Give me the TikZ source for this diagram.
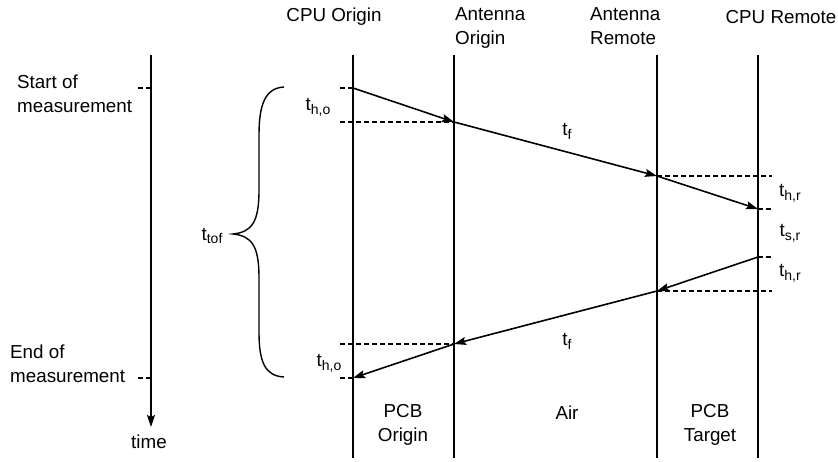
\documentclass[tikz,border=0pt]{standalone}
\usepackage{fontspec}
\setmainfont{Liberation Sans}
\usetikzlibrary{arrows.meta}
\newcommand\lowidx[1]{\raisebox{-0.4ex}{\fontsize{14}{14}\selectfont #1}}
\tikzset{
  txt/.style={font=\fontsize{18.8}{24}\selectfont, inner sep=0pt},
  lifeline/.style={line width=1.6pt},
  msg/.style={line width=1.6pt, -{Stealth[length=12pt,width=8pt,inset=2pt]}},
  tick/.style={line width=1.3pt, dash pattern=on 5pt off 3pt},
}
\begin{document}
\begin{tikzpicture}[x=1pt,y=-1pt]
\useasboundingbox (0,0) rectangle (838,462);
% lifeline ends
\coordinate (ta) at (151,55);  \coordinate (tb) at (151,427);
\coordinate (co) at (353,55);  \coordinate (cob) at (353,458);
\coordinate (ao) at (454,55);  \coordinate (aob) at (454,458);
\coordinate (ar) at (657,55);  \coordinate (arb) at (657,458);
\coordinate (cr) at (758,55);  \coordinate (crb) at (758,458);
\draw[msg] (ta) -- (tb);
\draw[lifeline] (co) -- (cob);
\draw[lifeline] (ao) -- (aob);
\draw[lifeline] (ar) -- (arb);
\draw[lifeline] (cr) -- (crb);
% event points
\coordinate (p1) at (353,88);  \coordinate (p2) at (454,122);
\coordinate (p3) at (657,176); \coordinate (p4) at (758,209);
\coordinate (p5) at (758,257); \coordinate (p6) at (657,291);
\coordinate (p7) at (454,344); \coordinate (p8) at (353,378);
% dashed ends
\coordinate (d1) at (340,88);  \coordinate (d2) at (340,122);
\coordinate (d3) at (772,176); \coordinate (d4) at (772,209);
\coordinate (d5) at (772,257); \coordinate (d6) at (772,291);
\coordinate (d7) at (340,344); \coordinate (d8) at (340,378);
\coordinate (s1) at (138,88);  \coordinate (s1b) at (151,88);
\coordinate (s2) at (138,378); \coordinate (s2b) at (151,378);
\draw[tick] (s1) -- (s1b);
\draw[tick] (s2) -- (s2b);
\draw[tick] (d1) -- (p1);
\draw[tick] (d2) -- (p2);
\draw[tick] (p3) -- (d3);
\draw[tick] (p4) -- (d4);
\draw[tick] (p5) -- (d5);
\draw[tick] (p6) -- (d6);
\draw[tick] (d7) -- (p7);
\draw[tick] (d8) -- (p8);
% messages
\draw[msg] (p1) -- (p2);
\draw[msg] (p2) -- (p3);
\draw[msg] (p3) -- (p4);
\draw[msg] (p5) -- (p6);
\draw[msg] (p6) -- (p7);
\draw[msg] (p7) -- (p8);
% brace
\draw[line width=1.4pt] (284,87) .. controls (265,88) and (259,105) .. (259,135)
  -- (259,190) .. controls (259,222) and (252,232) .. (233,234)
  .. controls (252,236) and (259,246) .. (259,278)
  -- (259,332) .. controls (259,362) and (265,376) .. (284,377);
% headings
\node[txt] (hco) at (334,17) {CPU Origin};
\node[txt, align=left, anchor=north west] (hao) at (455,7) {Antenna\\Origin};
\node[txt, align=left, anchor=north west] (har) at (590,7) {Antenna\\Remote};
\node[txt] (hcr) at (781,17) {CPU Remote};
\node[txt, align=left, anchor=north west] (lst) at (17,75) {Start of\\measurement};
\node[txt, align=left, anchor=north west] (len) at (10,345) {End of\\measurement};
\node[txt] (ltime) at (149,442) {time};
\node[txt, align=center] (bpo) at (403,425) {PCB\\Origin};
\node[txt] (bair) at (567,413) {Air};
\node[txt, align=center] (bpt) at (710,425) {PCB\\Target};
% time labels
\node[txt] (l1) at (318,107) {t\lowidx{h,o}};
\node[txt] (l2) at (567,131) {t\lowidx{f}};
\node[txt] (l3) at (790,193) {t\lowidx{h,r}};
\node[txt] (l4) at (790,233) {t\lowidx{s,r}};
\node[txt] (l5) at (790,273) {t\lowidx{h,r}};
\node[txt] (l6) at (567,341) {t\lowidx{f}};
\node[txt] (l7) at (329,363) {t\lowidx{h,o}};
\node[txt] (l8) at (212,236) {t\lowidx{tof}};
\end{tikzpicture}
\end{document}
